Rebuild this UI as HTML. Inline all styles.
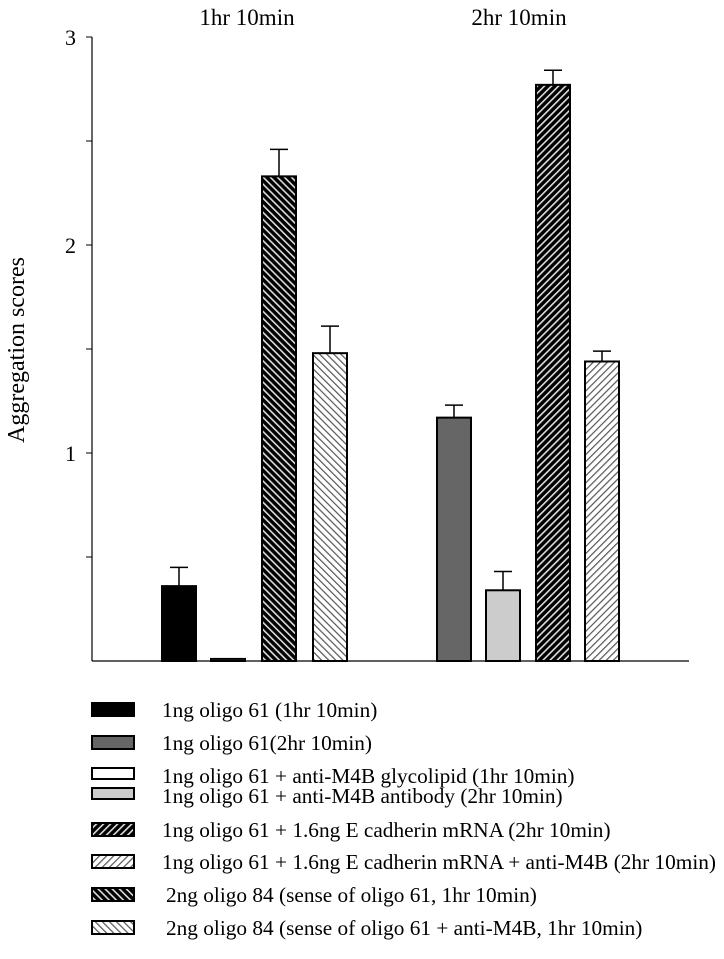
<!DOCTYPE html>
<html><head><meta charset="utf-8"><style>
body{margin:0;background:#fff;width:724px;height:954px;overflow:hidden}
text{font-family:"Liberation Serif",serif;fill:#000}
</style></head><body>
<svg width="724" height="954">
<defs>
<pattern id="darkBack" width="5" height="5" patternUnits="userSpaceOnUse" patternTransform="rotate(-45)"><rect width="5" height="5" fill="#000"/><rect width="1.6" height="5" fill="#ddd"/></pattern>
<pattern id="darkFwd" width="5" height="5" patternUnits="userSpaceOnUse" patternTransform="rotate(45)"><rect width="5" height="5" fill="#000"/><rect width="1.6" height="5" fill="#ddd"/></pattern>
<pattern id="lightBack" width="5" height="5" patternUnits="userSpaceOnUse" patternTransform="rotate(-45)"><rect width="5" height="5" fill="#fff"/><rect width="1.2" height="5" fill="#555"/></pattern>
<pattern id="lightFwd" width="5" height="5" patternUnits="userSpaceOnUse" patternTransform="rotate(45)"><rect width="5" height="5" fill="#fff"/><rect width="1.2" height="5" fill="#555"/></pattern>
</defs>
<g id="plot"></g>
<text x="247" y="25" font-size="23" text-anchor="middle">1hr 10min</text>
<text x="519" y="25" font-size="23" text-anchor="middle">2hr 10min</text>
<text transform="translate(24,350) rotate(-90)" font-size="24" text-anchor="middle">Aggregation scores</text>
<g id="legend"></g>
</svg>
<script>
const barLabels=["1ng oligo 61 (1hr 10min)","1ng oligo 61 + anti-M4B glycolipid (1hr 10min)","2ng oligo 84 (sense of oligo 61, 1hr 10min)","2ng oligo 84 (sense of oligo 61 + anti-M4B, 1hr 10min)","1ng oligo 61(2hr 10min)","1ng oligo 61 + anti-M4B antibody (2hr 10min)","1ng oligo 61 + 1.6ng E cadherin mRNA (2hr 10min)","1ng oligo 61 + 1.6ng E cadherin mRNA + anti-M4B (2hr 10min)"];
const barValues=[0.36,0.01,2.33,1.48,1.17,0.34,2.77,1.44];
const barErrors=[0.09,0,0.13,0.13,0.06,0.09,0.07,0.05];
const yTicks=[1,2,3];
const legendLabels=["1ng oligo 61 (1hr 10min)","1ng oligo 61(2hr 10min)","1ng oligo 61 + anti-M4B glycolipid (1hr 10min)","1ng oligo 61 + anti-M4B antibody (2hr 10min)","1ng oligo 61 + 1.6ng E cadherin mRNA (2hr 10min)","1ng oligo 61 + 1.6ng E cadherin mRNA + anti-M4B (2hr 10min)","2ng oligo 84 (sense of oligo 61, 1hr 10min)","2ng oligo 84 (sense of oligo 61 + anti-M4B, 1hr 10min)"];
const NS="http://www.w3.org/2000/svg";
const fills={"1ng oligo 61 (1hr 10min)":"#000","1ng oligo 61(2hr 10min)":"#666","1ng oligo 61 + anti-M4B glycolipid (1hr 10min)":"#fff","1ng oligo 61 + anti-M4B antibody (2hr 10min)":"#ccc","1ng oligo 61 + 1.6ng E cadherin mRNA (2hr 10min)":"url(#darkFwd)","1ng oligo 61 + 1.6ng E cadherin mRNA + anti-M4B (2hr 10min)":"url(#lightFwd)","2ng oligo 84 (sense of oligo 61, 1hr 10min)":"url(#darkBack)","2ng oligo 84 (sense of oligo 61 + anti-M4B, 1hr 10min)":"url(#lightBack)"};
const y0=661,y3=37;
const yS=v=>y0-v*(y0-y3)/3;
const barX=[162,211,262,313,437,486,536,585];
const xS=i=>barX[i];
function el(tag,attrs,parent){const e=document.createElementNS(NS,tag);for(const k in attrs)e.setAttribute(k,attrs[k]);parent.appendChild(e);return e;}
const plot=document.getElementById('plot');
let a=el('line',{x1:92,y1:y3,x2:92,y2:y0,stroke:'#000','stroke-width':1.2},plot);


a=el('line',{x1:92,y1:y0,x2:689,y2:y0,stroke:'#000','stroke-width':1.2},plot);


for(let v=0.5;v<=3;v+=0.5){const t=el('line',{x1:86,x2:92,y1:yS(v),y2:yS(v),stroke:'#000'},plot);

}
yTicks.forEach(v=>{const t=el('text',{x:76,y:yS(v)+8,'font-size':22,'text-anchor':'end'},plot);t.textContent=v;

});
barValues.forEach((v,i)=>{
 const x=xS(i),w=34,top=yS(v);
 const e=barErrors[i];
 if(e>0){const cx=x+w/2;
  const l=el('line',{x1:cx,x2:cx,y1:yS(v+e),y2:top,stroke:'#000','stroke-width':1.5},plot);
  
  
  const c=el('line',{x1:cx-9,x2:cx+9,y1:yS(v+e),y2:yS(v+e),stroke:'#000','stroke-width':1.5},plot);
  
  }
 const r=el('rect',{x:x,y:top,width:w,height:Math.max(y0-top,1),fill:fills[barLabels[i]],stroke:'#000','stroke-width':2},plot);
 
 
});
const lg=document.getElementById('legend');
const rowY=[703,736,768,788,823,855,888,921];
const textY=[717,750,783,803,837,869,902,935];
legendLabels.forEach((lab,i)=>{
 const r=el('rect',{x:92,y:rowY[i],width:42,height:i==2||i==3?11:13,fill:fills[lab],stroke:'#000','stroke-width':2},lg);
 
 
 const t=el('text',{x:i>=6?166:162,y:textY[i],'font-size':21.3},lg);t.textContent=lab;
 
 
});
</script>
</body></html>
